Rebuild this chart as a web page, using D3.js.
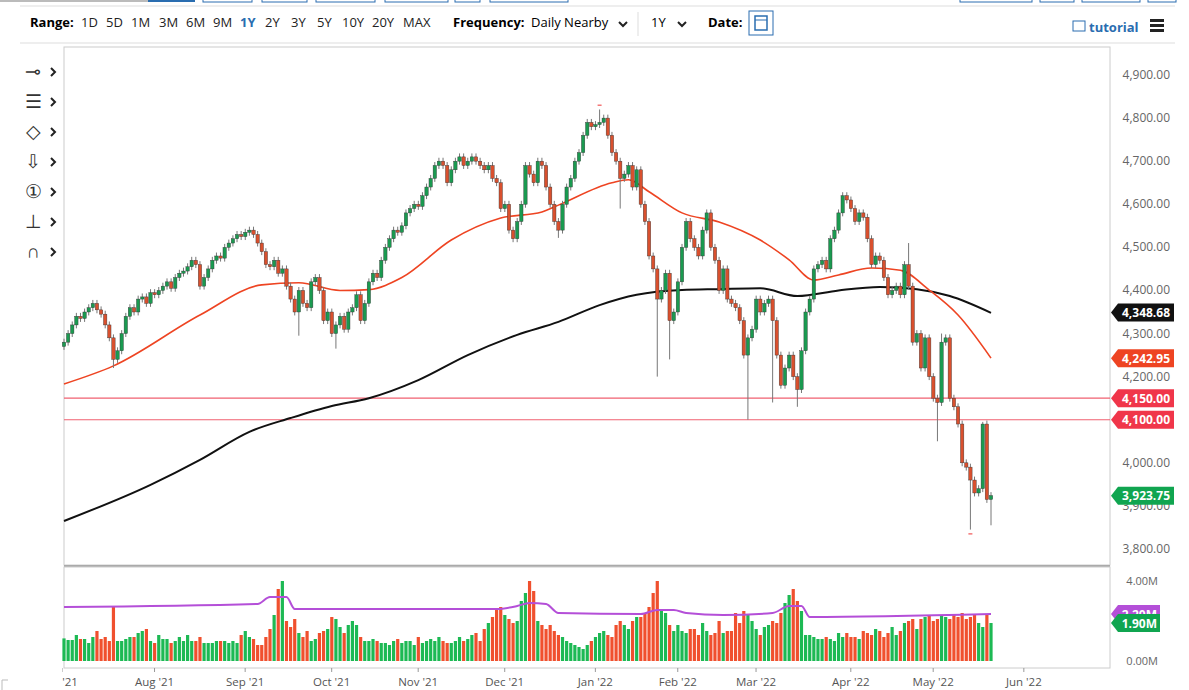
<!DOCTYPE html>
<html><head><meta charset="utf-8">
<script src="https://cdn.jsdelivr.net/npm/d3@7"></script>
<style>body{margin:0;background:#fff;font-family:"Open Sans",sans-serif}</style>
</head><body><svg id="c" width="1189" height="690"></svg>
<script>
const startDate = "2021-07-01";
const holidays = ["2021-07-05","2021-09-06","2021-11-25","2021-12-24","2022-01-17","2022-02-21","2022-04-15"];
const closes = [
4280,4300,4320,4340,4335,4350,4360,4370,4355,4345,
4320,4290,4240,4260,4300,4340,4360,4350,4380,4385,
4370,4395,4390,4400,4410,4420,4405,4430,4440,4445,
4455,4470,4460,4410,4430,4450,4470,4480,4475,4500,
4510,4520,4530,4525,4535,4540,4530,4510,4490,4460,
4455,4470,4440,4450,4410,4380,4350,4400,4370,4360,
4420,4430,4400,4330,4350,4300,4320,4340,4310,4350,
4360,4390,4330,4370,4420,4440,4430,4470,4500,4520,
4540,4535,4550,4580,4590,4600,4595,4620,4640,4660,
4690,4700,4690,4650,4680,4700,4710,4690,4700,4710,
4700,4690,4680,4690,4660,4650,4590,4600,4540,4520,
4560,4600,4690,4670,4650,4700,4690,4640,4600,4560,
4540,4600,4640,4660,4700,4720,4760,4790,4780,4785,
4790,4800,4760,4720,4700,4660,4670,4690,4640,4680,
4600,4560,4480,4450,4380,4400,4440,4330,4350,4420,
4500,4560,4520,4500,4480,4540,4580,4500,4470,4400,
4450,4380,4370,4360,4330,4250,4290,4310,4380,4350,
4370,4380,4330,4250,4180,4220,4250,4200,4170,4260,
4350,4380,4450,4460,4470,4450,4520,4540,4580,4620,
4610,4590,4560,4580,4570,4520,4460,4480,4470,4430,
4390,4400,4410,4390,4460,4410,4280,4300,4220,4290,
4200,4150,4140,4280,4290,4150,4130,4090,4000,3990,
3960,3930,3940,4090,3915,3924];
const firstOpen = 4270;
const highOverrides = [[130,4820],[205,4510],[213,4300],[223,4095]];
const lowOverrides = [[12,4220],[57,4295],[66,4265],[120,4522],[135,4590],[144,4200],[147,4240],[166,4100],[172,4140],[178,4130],[212,4050],[220,3845],[225,3855]];
const volumes = [
1.13,1.05,1.05,1.3,1.1,1.1,0.9,1.2,1.5,1.1,
1.2,1.0,2.7,1.0,1.0,1.1,1.2,1.2,1.4,1.5,
1.6,1.0,0.9,1.3,1.1,1.1,0.9,1.0,1.2,1.0,
1.3,1.0,1.0,1.2,0.9,0.9,0.9,1.0,1.0,1.0,
0.9,1.0,0.9,1.3,1.5,1.2,1.1,0.8,0.8,1.2,
1.6,2.3,3.6,4.0,2.0,1.7,2.1,1.4,1.2,1.5,
1.0,1.1,1.4,1.5,1.6,2.2,2.1,1.7,1.4,1.8,
2.0,1.8,1.2,1.0,1.0,1.1,1.0,0.9,0.9,0.8,
1.0,1.1,0.9,1.0,1.0,0.8,1.2,0.9,1.0,1.1,
1.0,1.2,1.0,0.9,0.9,1.0,1.2,1.0,1.1,1.3,
1.4,1.0,1.6,1.9,2.2,2.6,2.7,2.3,2.1,1.9,
2.0,3.0,3.4,4.0,3.5,2.0,1.8,1.6,1.8,1.5,
1.3,1.2,1.0,0.9,0.8,0.7,0.6,0.8,1.0,1.2,
1.4,1.5,1.3,1.2,1.8,2.0,1.8,1.6,2.0,2.2,
2.2,2.4,2.7,3.4,4.0,2.6,2.4,1.8,1.5,1.8,
1.5,1.4,1.6,1.6,1.3,1.9,1.5,1.3,1.4,2.0,
1.4,1.5,1.5,2.4,1.9,2.5,2.3,2.0,1.6,1.3,
1.7,1.8,2.0,1.9,2.4,2.9,3.3,3.6,3.0,2.5,
1.3,1.3,1.2,1.1,1.1,1.2,1.1,1.0,1.4,1.2,
1.4,1.2,1.2,1.1,1.5,1.4,1.3,1.6,1.5,1.2,
1.4,1.7,1.3,1.5,1.9,2.0,2.1,1.6,2.1,2.2,
2.3,2.0,2.1,2.3,2.2,2.1,2.3,2.2,2.4,2.1,
2.2,2.3,1.9,1.7,2.3,1.9];
const ma50 = [[0,4183],[12,4225],[33,4343],[48,4413],[57,4418],[67,4400],[74,4402],[82,4430],[94,4517],[106,4568],[116,4582],[120,4598],[133,4650],[137,4657],[142,4629],[150,4580],[159,4559],[169,4517],[176,4471],[182,4424],[188,4436],[196,4452],[203,4447],[210,4401],[217,4343],[225,4243]];
const ma200 = [[0,3865],[21,3949],[33,4007],[45,4072],[55,4104],[65,4132],[74,4150],[86,4192],[98,4250],[110,4297],[120,4327],[130,4366],[139,4390],[150,4401],[159,4403],[169,4405],[178,4387],[188,4400],[198,4408],[207,4403],[215,4387],[225,4348]];
const volMA = [[0,2.7],[47,2.85],[50,3.2],[54,3.2],[56,2.6],[105,2.6],[110,2.75],[113,2.9],[117,2.85],[120,2.4],[140,2.35],[144,2.55],[148,2.55],[151,2.4],[160,2.3],[172,2.4],[176,2.75],[179,2.75],[181,2.2],[225,2.35]];
const priceTicks = [3800,3900,4000,4100,4200,4300,4400,4500,4600,4700,4800,4900];
const hLines = [4150,4100];
const tags = [{v:4348.68,t:"4,348.68",c:"#111"},{v:4242.95,t:"4,242.95",c:"#ee4422"},{v:4150,t:"4,150.00",c:"#f0364a"},{v:4100,t:"4,100.00",c:"#f0364a"},{v:3923.75,t:"3,923.75",c:"#10a550"}];
const rangeItems = ["1D","5D","1M","3M","6M","9M","1Y","2Y","3Y","5Y","10Y","20Y","MAX"];

const dates=[]; {let d=new Date(startDate+"T12:00:00");while(dates.length<260){const s=d.toISOString().slice(0,10);const wd=d.getDay();if(wd>0&&wd<6&&!holidays.includes(s))dates.push(new Date(d));d.setDate(d.getDate()+1);}}

const svg=d3.select("#c");
const X0=64,X1=1110,PT=47,PB=565,VT=567,VB=668;
const x=d3.scaleLinear().domain([0,225]).range([64,991]);
const y=d3.scaleLinear().domain([3800,4900]).range([549,75]);
const yv=d3.scaleLinear().domain([0,4]).range([661,581]);

svg.append("line").attr("x1",20).attr("x2",1175).attr("y1",43).attr("y2",43).attr("stroke","#ddd");
svg.append("line").attr("x1",20).attr("x2",1175).attr("y1",6).attr("y2",6).attr("stroke","#ddd");
[[0,148,"#bbb"],[148,195,"#2a6db0"]].forEach(r=>svg.append("rect").attr("x",r[0]).attr("y",0).attr("width",r[1]-r[0]).attr("height",2).attr("fill",r[2]));
[[203,252],[262,307],[316,375],[385,448],[455,480],[490,568],[960,1032],[1040,1074],[1082,1140],[1148,1176]].forEach(r=>svg.append("rect").attr("x",r[0]).attr("y",-4).attr("width",r[1]-r[0]).attr("height",6).attr("fill","none").attr("stroke","#2a6db0"));
const tb=svg.append("g").attr("font-size",13);
tb.append("text").attr("x",30).attr("y",27).attr("font-weight","bold").text("Range:");
let rx=81; const rw=[18,18,21,20,20,20,18,19,19,18,23,24,28];
rangeItems.forEach((t,i)=>{tb.append("text").attr("x",rx).attr("y",27).attr("fill",t=="1Y"?"#2a6db0":"#222").attr("font-weight",t=="1Y"?"bold":"normal").text(t);rx+=rw[i]+7;});
tb.append("text").attr("x",453).attr("y",27).attr("font-weight","bold").text("Frequency:");
tb.append("text").attr("x",531).attr("y",27).text("Daily Nearby");
tb.append("path").attr("d","M619,22 l4,4 l4,-4").attr("fill","none").attr("stroke","#222").attr("stroke-width",2);
svg.append("line").attr("x1",638).attr("x2",638).attr("y1",12).attr("y2",36).attr("stroke","#ddd");
tb.append("text").attr("x",651).attr("y",27).text("1Y");
tb.append("path").attr("d","M678,22 l4,4 l4,-4").attr("fill","none").attr("stroke","#222").attr("stroke-width",2);
tb.append("text").attr("x",708).attr("y",27).attr("font-weight","bold").text("Date:");
svg.append("rect").attr("x",749).attr("y",11).attr("width",24).attr("height",24).attr("fill","#fff").attr("stroke","#2a6db0");
svg.append("rect").attr("x",755).attr("y",16).attr("width",12).attr("height",14).attr("fill","none").attr("stroke","#2a6db0").attr("stroke-width",1.5);
svg.append("line").attr("x1",755).attr("x2",767).attr("y1",20).attr("y2",20).attr("stroke","#2a6db0");
svg.append("rect").attr("x",1073).attr("y",21).attr("width",12).attr("height",10).attr("fill","none").attr("stroke","#2a6db0");
tb.append("text").attr("x",1089).attr("y",32).attr("fill","#2a6db0").attr("font-weight","bold").text("tutorial");
[21,26,31].forEach(yy=>svg.append("rect").attr("x",1150).attr("y",yy-2).attr("width",14).attr("height",3).attr("fill","#222"));

const icons=["⊸","☰","◇","⇩","①","⊥","∩"];
icons.forEach((t,i)=>{const yy=78+i*30;svg.append("text").attr("x",33).attr("y",yy).attr("text-anchor","middle").attr("font-size",19).attr("fill","#333").text(t);
svg.append("path").attr("d",`M51,${yy-10} l4,4 l-4,4`).attr("fill","none").attr("stroke","#222").attr("stroke-width",2);});

svg.append("rect").attr("x",X0).attr("y",PT).attr("width",X1-X0).attr("height",PB-PT).attr("fill","none").attr("stroke","#ccc");
svg.append("line").attr("x1",X0).attr("x2",X1).attr("y1",PB+1).attr("y2",PB+1).attr("stroke","#aaa").attr("stroke-width",2);
svg.append("rect").attr("x",X0).attr("y",VT).attr("width",X1-X0).attr("height",VB-VT).attr("fill","none").attr("stroke","#ccc");
svg.append("path").attr("d","M2,690 V680 H8").attr("fill","none").attr("stroke","#bbb");

svg.append("g").selectAll("text").data(priceTicks).join("text").attr("x",1170).attr("y",d=>y(d)+4).attr("text-anchor","end").attr("font-size",12).attr("fill","#666").text(d=>d3.format(",.2f")(d));
svg.append("g").selectAll("line").data(hLines).join("line").attr("x1",X0).attr("x2",X1).attr("y1",d=>y(d)).attr("y2",d=>y(d)).attr("stroke","#f06070").attr("stroke-width",1.2);

const line=d3.line().x(d=>x(d[0])).y(d=>y(d[1])).curve(d3.curveMonotoneX);
svg.append("path").attr("d",line(ma200)).attr("fill","none").attr("stroke","#111").attr("stroke-width",2);
svg.append("path").attr("d",line(ma50)).attr("fill","none").attr("stroke","#ee4422").attr("stroke-width",1.6);

const hiO=new Map(highOverrides), loO=new Map(lowOverrides);
const candles=closes.map((c,i)=>{const o=i?closes[i-1]:firstOpen;return {i,o,c,h:hiO.get(i)||Math.max(o,c)+8,l:loO.get(i)||Math.min(o,c)-8};});
const cg=svg.append("g");
cg.selectAll("line").data(candles).join("line").attr("x1",d=>x(d.i)).attr("x2",d=>x(d.i)).attr("y1",d=>y(d.h)).attr("y2",d=>y(d.l)).attr("stroke","#777").attr("stroke-width",1);
cg.selectAll("rect").data(candles).join("rect").attr("x",d=>x(d.i)-1.7).attr("width",3.4).attr("y",d=>y(Math.max(d.o,d.c))).attr("height",d=>Math.max(1.5,Math.abs(y(d.o)-y(d.c)))).attr("fill",d=>d.c>=d.o?"#1a9a50":"#d9502e").attr("stroke","#333").attr("stroke-width",0.4);
svg.append("line").attr("x1",x(130)-2).attr("x2",x(130)+2).attr("y1",y(4830)).attr("y2",y(4830)).attr("stroke","#e33");
svg.append("line").attr("x1",x(220)-2).attr("x2",x(220)+2).attr("y1",y(3835)).attr("y2",y(3835)).attr("stroke","#e33");

function tag(yy,t,c){const g=svg.append("g");g.append("path").attr("d",`M1111,${yy} l7,-9 H1174 V${yy+9} H1118 Z`).attr("fill",c);
g.append("text").attr("x",1170).attr("y",yy+4.5).attr("text-anchor","end").attr("font-size",12).attr("font-weight","bold").attr("fill","#fff").text(t);}
tags.forEach(d=>tag(y(d.v),d.t,d.c));

svg.append("g").selectAll("rect").data(candles).join("rect").attr("x",d=>x(d.i)-1.6).attr("width",3.2).attr("y",d=>yv(volumes[d.i])).attr("height",d=>yv(0)-yv(volumes[d.i])).attr("fill",d=>d.c>=d.o?"#1db954":"#f0502e");
svg.append("path").attr("d",d3.line().x(d=>x(d[0])).y(d=>yv(d[1])).curve(d3.curveMonotoneX)(volMA)).attr("fill","none").attr("stroke","#b44fd8").attr("stroke-width",2);
svg.append("g").selectAll("text").data([0,4]).join("text").attr("x",1158).attr("y",d=>yv(d)+4).attr("text-anchor","end").attr("font-size",11).attr("fill","#666").text(d=>d.toFixed(2)+"M");
function vtag(yy,t,c){svg.append("path").attr("d",`M1111,${yy} l7,-9 H1160 V${yy+9} H1118 Z`).attr("fill",c);
svg.append("text").attr("x",1157).attr("y",yy+4.5).attr("text-anchor","end").attr("font-size",12).attr("font-weight","bold").attr("fill","#fff").text(t);}
vtag(yv(2.35),"2.20M","#b44fd8"); vtag(yv(1.9),"1.90M","#10a550");

svg.append("defs").append("clipPath").attr("id","cl").append("rect").attr("x",62).attr("y",665).attr("width",1050).attr("height",25);
const months=[];
dates.forEach((d,i)=>{if(i===0||d.getMonth()!==dates[i-1].getMonth())months.push({i,d});});
const fmt=d3.timeFormat("%b '%y");
const ax=svg.append("g").attr("clip-path","url(#cl)");
months.filter(m=>m.i<=240).forEach(m=>{const xx=m.i===0?x(0)-2:x(m.i)+4;
ax.append("line").attr("x1",xx).attr("x2",xx).attr("y1",VB).attr("y2",VB+4).attr("stroke","#999");
ax.append("text").attr("x",xx).attr("y",686).attr("text-anchor","middle").attr("font-size",11.5).attr("fill","#555").text(fmt(m.d));});
</script></body></html>
